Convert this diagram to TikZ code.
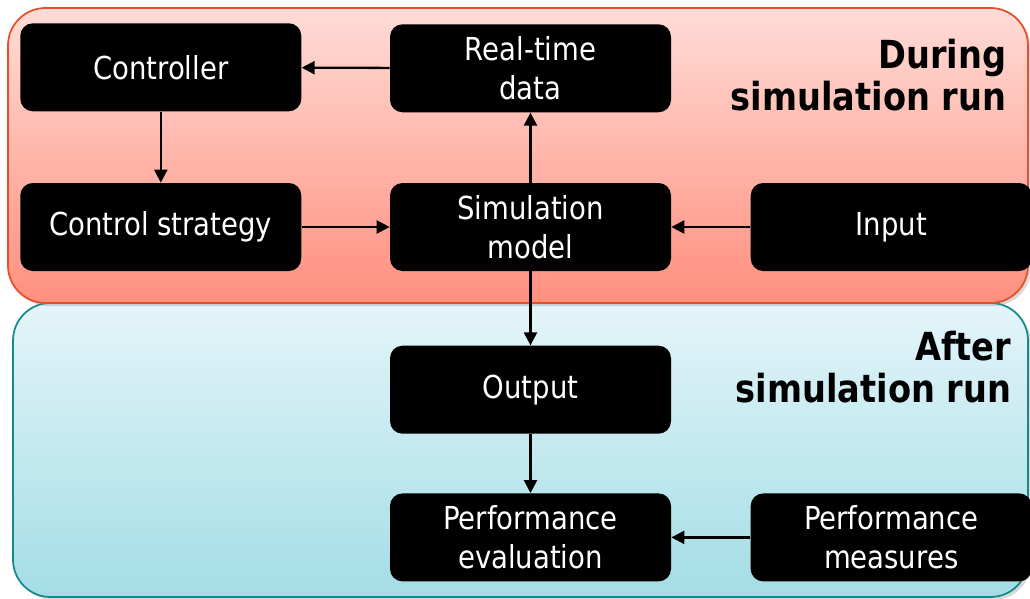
\documentclass[tikz,border=0pt]{standalone}
\usepackage{fontspec}
\setmainfont{DejaVu Sans}[FakeStretch=0.87]
\usetikzlibrary{positioning,shadows,arrows.meta}

\definecolor{runredtop}{HTML}{FFDCD7}
\definecolor{runredbot}{HTML}{FF8F7E}
\definecolor{runred}{HTML}{E5502A}
\definecolor{runbluetop}{HTML}{E4F5F9}
\definecolor{runbluebot}{HTML}{A3DDE6}
\definecolor{runblue}{HTML}{17888E}

\tikzset{
  block/.style={fill=black, text=white, rounded corners=0.25cm,
    minimum width=5.62cm, minimum height=1.76cm, align=center,
    font=\fontsize{18}{22.5}\selectfont},
  flow/.style={-{Triangle[length=2.6mm,width=2.6mm]}, line width=1.3pt},
  phase/.style={font=\bfseries\fontsize{22}{24}\selectfont, align=right},
  panel/.style={line width=1pt, rounded corners=0.75cm,
    drop shadow={shadow xshift=0.6mm, shadow yshift=-0.6mm, opacity=0.3}},
}

\begin{document}
\begin{tikzpicture}
\useasboundingbox (0,0) rectangle (20.6,-11.98);

% the two phases
\draw[panel, runblue, top color=runbluetop, bottom color=runbluebot] (0.26,-6.06) rectangle (20.56,-11.94);
\draw[panel, runred, top color=runredtop, bottom color=runredbot] (0.16,-0.16) rectangle (20.56,-6.06);

\node[phase, anchor=north east] (during) at (20.25,-0.65) {During\\simulation run};
\node[phase, anchor=north east] (after) at (20.35,-6.5) {After\\simulation run};

\node[block] (sim) at (10.61,-4.54) {Simulation\\model};
\node[block] (rtd) [above=1.4cm of sim] {Real-time\\data};
\node[block] (strat) [left=1.76cm of sim] {Control strategy};
\node[block] (ctrl) [above=1.42cm of strat] {Controller};
\node[block] (input) [right=1.58cm of sim] {Input};
\node[block] (out) [below=1.48cm of sim] {Output};
\node[block] (eval) [below=1.18cm of out] {Performance\\evaluation};
\node[block] (meas) [right=1.58cm of eval] {Performance\\measures};

\draw[flow] (rtd) -- (ctrl);
\draw[flow] (ctrl) -- (strat);
\draw[flow] (strat) -- (sim);
\draw[flow] (input) -- (sim);
\draw[flow] (sim) -- (rtd);
\draw[flow] (sim) -- (out);
\draw[flow] (out) -- (eval);
\draw[flow] (meas) -- (eval);

\end{tikzpicture}
\end{document}
